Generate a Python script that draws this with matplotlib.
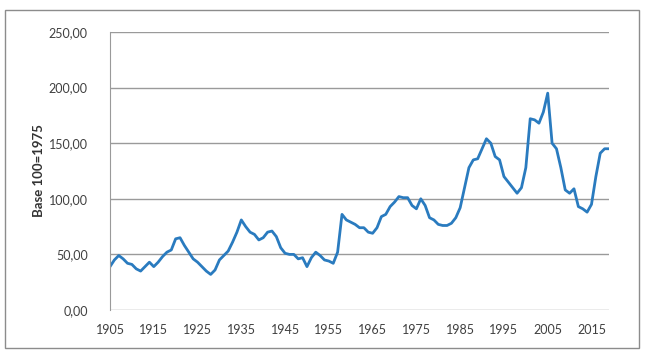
import numpy as np
import matplotlib
matplotlib.use("Agg")
import matplotlib.pyplot as plt
from matplotlib.patches import Rectangle
from matplotlib.ticker import FuncFormatter

plt.rcParams["font.family"] = ["Lato", "DejaVu Sans"]

# annual index, base 100 = 1975
years = np.arange(1905, 2020)
values = [
    39, 45, 49, 46, 42, 41, 37, 35, 39, 43,   # 1905-1914
    39, 43, 48, 52, 54, 64, 65, 58, 52, 46,   # 1915-1924
    43, 39, 35, 32, 36, 45, 49, 53, 61, 70,   # 1925-1934
    81, 75, 70, 68, 63, 65, 70, 71, 66, 56,   # 1935-1944
    51, 50, 50, 46, 47, 39, 47, 52, 49, 45,   # 1945-1954
    44, 42, 52, 86, 81, 79, 77, 74, 74, 70,   # 1955-1964
    69, 74, 84, 86, 93, 97, 102, 101, 101, 94,  # 1965-1974
    91, 100, 94, 83, 81, 77, 76, 76, 78, 83,  # 1975-1984
    92, 110, 128, 135, 136, 145, 154, 150, 138, 135,  # 1985-1994
    120, 115, 110, 105, 110, 128, 172, 171, 168, 178,  # 1995-2004
    195, 150, 145, 128, 108, 105, 109, 93, 91, 88,  # 2005-2014
    95, 120, 141, 145, 145,                   # 2015-2019
]
x_ticks = list(range(1905, 2016, 10))
y_ticks = [0, 50, 100, 150, 200, 250]

fig = plt.figure(figsize=(6.5, 3.59), dpi=100)
fig.patches.append(Rectangle((5 / 650, 1 - 348 / 359), 634 / 650, 338 / 359,
                             transform=fig.transFigure, fill=False,
                             edgecolor="#8c8c8c", linewidth=1.0))
ax = fig.add_axes([110 / 650, 1 - 310 / 359, 499 / 650, 278 / 359])

ax.plot(years, values, color="#2a7bbf", linewidth=2.0, solid_joinstyle="round")

ax.set_xlim(1905, 2019)
ax.set_ylim(0, 250)
ax.set_xticks(x_ticks)
ax.set_yticks(y_ticks)
ax.yaxis.set_major_formatter(FuncFormatter(lambda v, _: f"{v:.2f}".replace(".", ",")))
ax.grid(axis="y", color="#9a9a9a", linewidth=1.0)
ax.set_axisbelow(True)
for side in ["top", "right", "bottom"]:
    ax.spines[side].set_visible(False)
ax.spines["left"].set_color("#9a9a9a")
ax.tick_params(axis="both", length=0, labelsize=9, colors="#404040")
ax.tick_params(axis="x", pad=10)
ax.tick_params(axis="y", pad=16)
ax.set_ylabel("Base 100=1975", fontsize=9.5, fontweight="bold", color="#333333", labelpad=3)

fig.savefig("out.png", dpi=100)
